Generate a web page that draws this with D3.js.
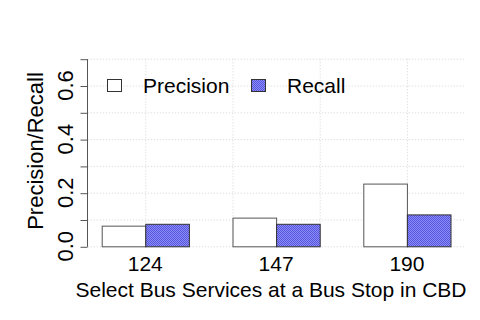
<!DOCTYPE html>
<html>
<head>
<meta charset="utf-8">
<script src="https://cdn.jsdelivr.net/npm/d3@7"></script>
<style>
  body { margin: 0; background: #fff; }
  text { font-family: "Liberation Sans", Arial, sans-serif; fill: #000; }
</style>
</head>
<body>
<div id="vis-container"></div>
<script>
// data
const services = ["124", "147", "190"];
const precision = [0.077, 0.107, 0.234];
const recall = [0.084, 0.084, 0.119];
const yTicks = [0, 0.1, 0.2, 0.3, 0.4, 0.5, 0.6, 0.7];
const yLabels = [0, 0.2, 0.4, 0.6];
const xGrid = [2, 4, 6, 8];

const w = 480, h = 320;

const svg = d3.select("#vis-container").append("svg")
    .attr("width", w).attr("height", h);

// checker fill for the recall bars
const pat = svg.append("defs").append("pattern")
    .attr("id", "chk").attr("width", 2).attr("height", 2)
    .attr("patternUnits", "userSpaceOnUse");
pat.append("rect").attr("width", 2).attr("height", 2).attr("fill", "#8c8cff");
pat.append("rect").attr("width", 1).attr("height", 1).attr("fill", "#5656d8");
pat.append("rect").attr("x", 1).attr("y", 1).attr("width", 1).attr("height", 1).attr("fill", "#5656d8");

// bar units like R barplot: pairs at [1,3], [4,6], [7,9]
const xScale = d3.scaleLinear().domain([0, 9]).range([58.1, 450.5]);
const yScale = d3.scaleLinear().domain([0, 0.7]).range([246.3, 58.7]);
const xLeft = xScale(0.68), xRight = xScale(9.32);

// grid
const grid = svg.append("g").attr("stroke", "#d4d4d4").attr("stroke-dasharray", "1,2");
grid.selectAll(".hg").data(yTicks).enter().append("line")
    .attr("x1", xLeft).attr("x2", xRight)
    .attr("y1", d => yScale(d) + 0.5).attr("y2", d => yScale(d) + 0.5);
grid.selectAll(".vg").data(xGrid).enter().append("line")
    .attr("x1", d => xScale(d) + 0.5).attr("x2", d => xScale(d) + 0.5)
    .attr("y1", yScale(0)).attr("y2", yScale(0.7));

// bars
const groupStart = i => 1 + i * 3;
svg.selectAll(".prec").data(precision).enter().append("rect")
    .attr("x", (d, i) => xScale(groupStart(i)) + 0.5)
    .attr("width", xScale(1) - xScale(0))
    .attr("y", d => yScale(d) + 0.5)
    .attr("height", d => yScale(0) - yScale(d))
    .attr("fill", "#fff").attr("stroke", "#555");
svg.selectAll(".rec").data(recall).enter().append("rect")
    .attr("x", (d, i) => xScale(groupStart(i) + 1) + 0.5)
    .attr("width", xScale(1) - xScale(0))
    .attr("y", d => yScale(d) + 0.5)
    .attr("height", d => yScale(0) - yScale(d))
    .attr("fill", "url(#chk)").attr("stroke", "#333");

// y axis
const yAxis = d3.axisLeft(yScale).tickValues(yTicks).tickSize(7).tickFormat("");
const yg = svg.append("g").attr("transform", "translate(87.5,0.5)").call(yAxis);
yg.select(".domain").attr("stroke", "#555").attr("d", "M0," + yScale(0) + "V" + yScale(0.7));
yg.selectAll(".tick line").attr("stroke", "#555");

svg.selectAll(".ylab").data(yLabels).enter().append("text")
    .attr("transform", d => "translate(73," + yScale(d) + ") rotate(-90)")
    .attr("text-anchor", "middle")
    .style("font-size", "22px")
    .text(d => d.toFixed(1));

svg.append("text")
    .attr("transform", "translate(43," + 151 + ") rotate(-90)")
    .attr("text-anchor", "middle")
    .style("font-size", "22px")
    .text("Precision/Recall");

// x labels
svg.selectAll(".xlab").data(services).enter().append("text")
    .attr("x", (d, i) => xScale(groupStart(i) + 1))
    .attr("y", 271)
    .attr("text-anchor", "middle")
    .style("font-size", "21px")
    .text(d => d);

svg.append("text")
    .attr("x", 271).attr("y", 297)
    .attr("text-anchor", "middle")
    .style("font-size", "21px")
    .text("Select Bus Services at a Bus Stop in CBD");

// legend
const legend = [["Precision", "#fff", 107.5, 143], ["Recall", "url(#chk)", 251.5, 287]];
legend.forEach(l => {
    svg.append("rect").attr("x", l[2]).attr("y", 79.5).attr("width", 14).attr("height", 12)
        .attr("fill", l[1]).attr("stroke", "#333");
    svg.append("text").attr("x", l[3]).attr("y", 93)
        .style("font-size", "21px").text(l[0]);
});
</script>
</body>
</html>
